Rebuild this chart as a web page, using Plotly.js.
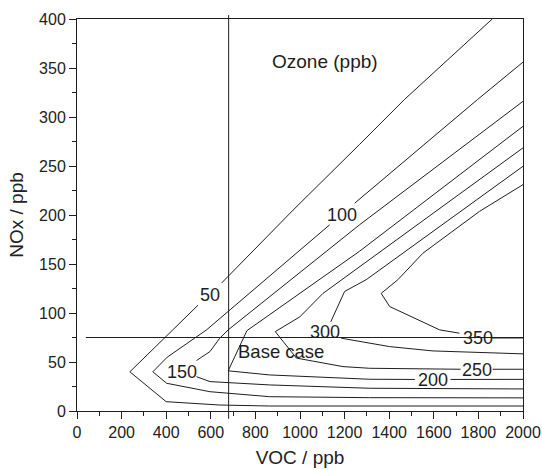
<!DOCTYPE html>
<html>
<head>
<meta charset="utf-8">
<script src="https://cdn.plot.ly/plotly-3.0.1.min.js"></script>
<style>html,body{margin:0;padding:0;background:#fff;}#chart{width:542px;height:470px;}</style>
</head>
<body>
<div id="chart"></div>
<script>
// Ozone isopleths (ppb); null = gap where a label sits
const c50x  = [1862, 1469, 1267, 969, 648, null, 543, 431, 237, 400, 640, 864, 2000];
const c50y  = [400, 318, 272, 205, 130.5, null, 108, 83, 40, 9.5, 6.1, 5.1, 5.1];
const c100x = [2000, 1797, 1245, null, 1133, 842, 581, 405, 340, 402, 596, 864, 1312, 2000];
const c100y = [356, 318, 212, null, 190, 134, 82.8, 55, 40, 28.3, 19.7, 14.6, 13.6, 13.4];
const c150x = [2000, 1267, 678, 640, 596, 536, null, 536, 596, 864, 1312, 2000];
const c150y = [316, 190, 82.8, 74.3, 60.6, 51.5, null, 35, 30, 26.6, 23.2, 22.5];
const c200x = [2000, 1267, 762, 678, 864, 1312, 1515, null, 1675, 2000];
const c200y = [290.5, 163, 82, 41, 36.8, 32.4, 32.2, null, 32.2, 32.3];
const c250x = [2000, 1267, 1103, 999, 889, 984, 1193, 1312, 1720, null, 1864, 2000];
const c250y = [268.5, 147.5, 120, 96, 81, 54, 45.3, 43.6, 42.6, null, 42.6, 42.6];
const c300x = [2000, 1700, 1446, 1297, 1200, 1138, null, 1185, 1402, 1596, 2000];
const c300y = [249.7, 200, 158, 134, 122, 91, null, 74.3, 65.7, 61.3, 58.3];
const c350x = [2000, 1805, 1551, 1439, 1364, 1402, 1626, 1715, null, 1862, 2000];
const c350y = [231, 203.7, 161, 134, 120, 106.6, 82.8, 79.4, null, 74.5, 74.5];

const contourLevels = ['50', '100', '150', '200', '250', '300', '350'];
const labelX = [597, 1189, 469, 1596, 1794, 1112, 1797];
const labelY = [118.5, 200, 39.7, 31.7, 41.9, 80.5, 74.8];

// Base case reference point
const baseVOC = 680;
const baseNOx = 75;

const xTicks = [0, 200, 400, 600, 800, 1000, 1200, 1400, 1600, 1800, 2000];
const yTicks = [0, 50, 100, 150, 200, 250, 300, 350, 400];

const FONT = '"Liberation Sans", Arial, Helvetica, sans-serif';
const INK = '#1e1e1e';

const xs = [c50x, c100x, c150x, c200x, c250x, c300x, c350x];
const ys = [c50y, c100y, c150y, c200y, c250y, c300y, c350y];
const traces = xs.map((x, i) => ({
  type: 'scatter', mode: 'lines', x: x, y: ys[i],
  connectgaps: false, hoverinfo: 'skip', showlegend: false,
  line: {color: INK, width: 1}
}));

const annotations = contourLevels.map((t, i) => ({
  x: labelX[i], y: labelY[i], xref: 'x', yref: 'y', text: t, showarrow: false,
  xanchor: 'center', yanchor: 'middle', font: {family: FONT, size: 18, color: INK}
}));
annotations.push({x: 1110, y: 357, xref: 'x', yref: 'y', text: 'Ozone (ppb)', showarrow: false,
  xanchor: 'center', yanchor: 'middle', font: {family: FONT, size: 19, color: INK}});
annotations.push({x: 913, y: 60.5, xref: 'x', yref: 'y', text: 'Base case', showarrow: false,
  xanchor: 'center', yanchor: 'middle', font: {family: FONT, size: 18.5, color: INK}});

const layout = {
  width: 542, height: 470,
  margin: {l: 77, r: 19, t: 19, b: 59},
  paper_bgcolor: '#fff', plot_bgcolor: '#fff',
  font: {family: FONT, size: 16, color: '#222'},
  showlegend: false,
  xaxis: {
    range: [0, 2000], tickvals: xTicks, ticktext: xTicks.map(String),
    showgrid: false, zeroline: false,
    showline: true, linecolor: INK, linewidth: 1, mirror: true,
    ticks: 'outside', ticklen: 7, tickwidth: 1, tickcolor: INK,
    minor: {dtick: 100, ticks: 'outside', ticklen: 4, tickwidth: 1, tickcolor: INK, showgrid: false},
    tickfont: {family: FONT, size: 16, color: '#222'},
    title: {text: 'VOC / ppb', font: {family: FONT, size: 19, color: '#222'}, standoff: 10}
  },
  yaxis: {
    range: [0, 400], tickvals: yTicks, ticktext: yTicks.map(String),
    showgrid: false, zeroline: false,
    showline: true, linecolor: INK, linewidth: 1, mirror: true,
    ticks: 'outside', ticklen: 7, tickwidth: 1, tickcolor: INK,
    minor: {dtick: 25, ticks: 'outside', ticklen: 4, tickwidth: 1, tickcolor: INK, showgrid: false},
    tickfont: {family: FONT, size: 16, color: '#222'},
    title: {text: 'NOx / ppb', font: {family: FONT, size: 19, color: '#222'}, standoff: 10}
  },
  shapes: [
    {type: 'line', xref: 'x', yref: 'paper', x0: baseVOC, x1: baseVOC, y0: -0.02, y1: 1.01,
     line: {color: INK, width: 1}},
    {type: 'line', xref: 'x', yref: 'y', x0: 40, x1: 2000, y0: baseNOx, y1: baseNOx,
     line: {color: INK, width: 1}}
  ],
  annotations: annotations
};

Plotly.newPlot('chart', traces, layout, {staticPlot: true, displayModeBar: false});
</script>
</body>
</html>
